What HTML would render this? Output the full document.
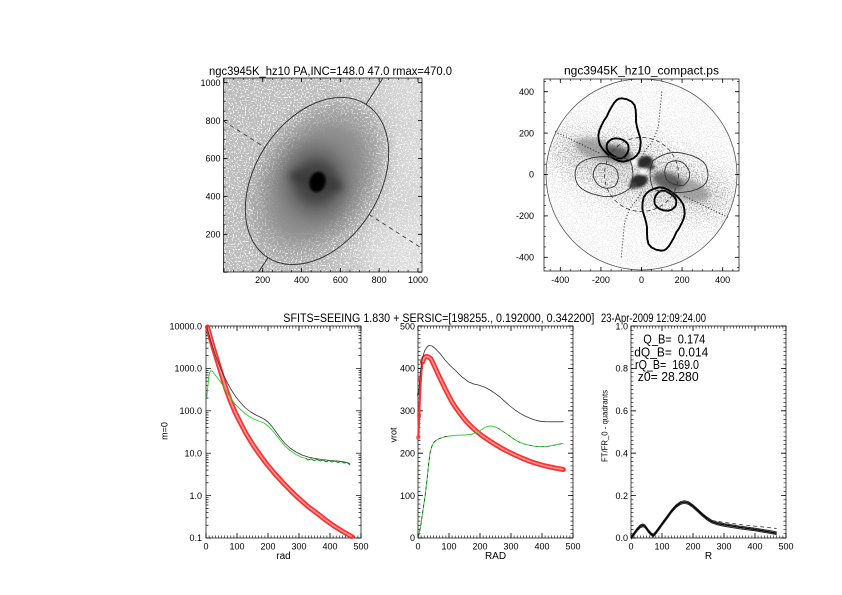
<!DOCTYPE html>
<html><head><meta charset="utf-8">
<style>
html,body{margin:0;padding:0;background:#fff;}
svg{display:block;}
text{font-family:"Liberation Sans",Arial,sans-serif;fill:#000;}
</style></head>
<body>
<svg width="842" height="595" viewBox="0 0 842 595" xmlns="http://www.w3.org/2000/svg">
<defs>
  <filter id="b1" x="-50%" y="-50%" width="200%" height="200%"><feGaussianBlur stdDeviation="1.3"/></filter>
  <filter id="b2" x="-50%" y="-50%" width="200%" height="200%"><feGaussianBlur stdDeviation="2.5"/></filter>
  <filter id="b4" x="-50%" y="-50%" width="200%" height="200%"><feGaussianBlur stdDeviation="4"/></filter>
  <filter id="b5" x="-50%" y="-50%" width="200%" height="200%"><feGaussianBlur stdDeviation="5"/></filter>
  <filter id="b8" x="-50%" y="-50%" width="200%" height="200%"><feGaussianBlur stdDeviation="8"/></filter>
  <filter id="b12" x="-60%" y="-60%" width="220%" height="220%"><feGaussianBlur stdDeviation="12"/></filter>

  <filter id="fSpkW" filterUnits="userSpaceOnUse" x="223" y="78" width="200" height="195">
    <feTurbulence type="fractalNoise" baseFrequency="0.75" numOctaves="1" seed="3"/>
    <feColorMatrix type="matrix" values="0 0 0 0 1  0 0 0 0 1  0 0 0 0 1  7 0 0 0 -3.75"/>
    <feComponentTransfer><feFuncA type="discrete" tableValues="0 1"/></feComponentTransfer>
  </filter>
  <filter id="fSpkD" filterUnits="userSpaceOnUse" x="223" y="78" width="200" height="195">
    <feTurbulence type="fractalNoise" baseFrequency="0.8" numOctaves="1" seed="11"/>
    <feColorMatrix type="matrix" values="0 0 0 0 0.6  0 0 0 0 0.6  0 0 0 0 0.6  7 0 0 0 -4.0"/>
    <feComponentTransfer><feFuncA type="discrete" tableValues="0 1"/></feComponentTransfer>
  </filter>
  <filter id="fSpkG" filterUnits="userSpaceOnUse" x="544" y="79" width="196" height="193">
    <feTurbulence type="fractalNoise" baseFrequency="0.8" numOctaves="1" seed="7"/>
    <feColorMatrix type="matrix" values="0 0 0 0 0.4  0 0 0 0 0.4  0 0 0 0 0.4  7 0 0 0 -3.3"/>
    <feComponentTransfer><feFuncA type="discrete" tableValues="0 1"/></feComponentTransfer>
  </filter>

  <linearGradient id="gTL" gradientUnits="userSpaceOnUse" x1="223" y1="0" x2="422" y2="0">
    <stop offset="0" stop-color="#bcbcbc"/>
    <stop offset="0.55" stop-color="#c0c0c0"/>
    <stop offset="1" stop-color="#d6d6d6"/>
  </linearGradient>

  <clipPath id="cTL"><rect x="223.5" y="78" width="198.5" height="194"/></clipPath>
  <clipPath id="cTR"><circle cx="641.5" cy="174.5" r="95.5"/></clipPath>

  <mask id="mTL" maskUnits="userSpaceOnUse" x="215" y="70" width="215" height="210">
    <rect x="215" y="70" width="215" height="210" fill="#fff"/>
    <ellipse cx="317" cy="181" rx="50" ry="76" transform="rotate(32.7 317 181)" fill="#000" filter="url(#b12)"/>
  </mask>
  <mask id="mTLd" maskUnits="userSpaceOnUse" x="215" y="70" width="215" height="210">
    <rect x="215" y="70" width="215" height="210" fill="#000"/>
    <ellipse cx="415" cy="230" rx="45" ry="70" fill="#fff" filter="url(#b12)"/>
    <ellipse cx="415" cy="100" rx="30" ry="30" fill="#fff" filter="url(#b12)"/>
  </mask>
  <mask id="mTR" maskUnits="userSpaceOnUse" x="540" y="75" width="205" height="200">
    <circle cx="641.5" cy="174.5" r="96" fill="#3a3a3a"/>
    <ellipse cx="641.5" cy="174.5" rx="100" ry="32" transform="rotate(18 641.5 174.5)" fill="#fff" filter="url(#b12)"/>
  </mask>

  <g id="decL">
    <line x1="206" y1="0" x2="211" y2="0"/>
    <line x1="206" y1="-12.76" x2="208.5" y2="-12.76"/>
    <line x1="206" y1="-20.23" x2="208.5" y2="-20.23"/>
    <line x1="206" y1="-25.53" x2="208.5" y2="-25.53"/>
    <line x1="206" y1="-29.64" x2="208.5" y2="-29.64"/>
    <line x1="206" y1="-32.99" x2="208.5" y2="-32.99"/>
    <line x1="206" y1="-35.83" x2="208.5" y2="-35.83"/>
    <line x1="206" y1="-38.29" x2="208.5" y2="-38.29"/>
    <line x1="206" y1="-40.46" x2="208.5" y2="-40.46"/>
    <line x1="361" y1="0" x2="356" y2="0"/>
    <line x1="361" y1="-12.76" x2="358.5" y2="-12.76"/>
    <line x1="361" y1="-20.23" x2="358.5" y2="-20.23"/>
    <line x1="361" y1="-25.53" x2="358.5" y2="-25.53"/>
    <line x1="361" y1="-29.64" x2="358.5" y2="-29.64"/>
    <line x1="361" y1="-32.99" x2="358.5" y2="-32.99"/>
    <line x1="361" y1="-35.83" x2="358.5" y2="-35.83"/>
    <line x1="361" y1="-38.29" x2="358.5" y2="-38.29"/>
    <line x1="361" y1="-40.46" x2="358.5" y2="-40.46"/>
  </g>

  <g id="lobeThick" fill="none" stroke="#000" stroke-width="1.9" stroke-linejoin="round">
    <polygon points="621.7,98.3 627,99.3 631.7,101.7 634.5,105 635.7,110 636,116 636,121.7 637,127 638.3,131.7 640,137 640.7,141.7 640.3,147 639.3,151.7 636.7,155.5 633.3,158.3 628.5,160.5 623.3,161.7 619,161 615,159.3 610.5,156.5 606.7,153.3 603,149.5 600,145 598.7,140 598.3,135 599.5,130 601.7,125 604,120.5 606.7,116.7 609,111.5 611.7,106.7 614,103 616.7,100 619,98.7"/>
    <polygon points="608.3,141.7 611.5,139.2 615,138.3 619.5,138.7 623.3,140 626.3,142.2 628.3,145 628.6,149.5 627.3,153.3 624.8,156.5 621.7,158.3 618.3,158.3 615,156.7 611.4,154.5 608.3,151.7 606.8,148.8 606.7,146 607.2,143.5"/>
  </g>
  <g id="lobeThin" fill="none" stroke="#333" stroke-width="0.9" stroke-linejoin="round">
    <polygon points="630,160 623,157.8 616.7,157.3 608,156.5 600,156.7 592,157.8 585,160 580,163 576.7,166.7 575.3,171 575,175 575.7,179.5 577.3,184 580.5,187.8 585,190.7 590.5,193.2 596.7,195 603,196.3 610,196.7 616,195.5 621.7,193.3 626,191 630,188.3 632.5,181 633,174 632,166"/>
    <polygon points="600,163.3 605,163.8 610,165 614,167 616.7,170 618,174 618.3,178.3 617.3,182.5 615,186 611,187.8 606.7,188.3 602,187.3 598.3,185 595.3,181 593.3,176.7 593.4,172 595,168.3 597.3,165.3"/>
  </g>
  <g id="dots" fill="none" stroke="#222" stroke-width="1" stroke-dasharray="1 2">
    <polyline points="661.7,91.7 661,100 660,110 659.3,118 658.3,126.7 656,133.5 653.3,140 650,144.5 646.7,148.3 644,152.5 641.7,156.7"/>
    <line x1="555" y1="131.7" x2="600" y2="153.3"/>
  </g>
</defs>

<rect x="0" y="0" width="842" height="595" fill="#fff"/>

<!-- ================= TOP LEFT: galaxy image ================= -->
<g clip-path="url(#cTL)">
  <rect x="223.5" y="78" width="198.5" height="194" fill="url(#gTL)"/>
  <ellipse cx="412" cy="258" rx="45" ry="40" fill="#e6e6e6" opacity="0.7" filter="url(#b12)"/>
  <ellipse cx="414" cy="92" rx="28" ry="25" fill="#dedede" opacity="0.5" filter="url(#b12)"/>
  <ellipse cx="410" cy="170" rx="20" ry="45" fill="#dcdcdc" opacity="0.5" filter="url(#b12)"/>
  <g transform="rotate(32.7 317 181)">
    <ellipse cx="317" cy="181" rx="60" ry="88" fill="#a6a6a6" filter="url(#b8)"/>
    <ellipse cx="317" cy="181" rx="46" ry="64" fill="#8c8c8c" filter="url(#b8)"/>
  </g>
  <ellipse cx="316" cy="182" rx="34" ry="38" fill="#6a6a6a" filter="url(#b8)"/>
  <ellipse cx="316" cy="182" rx="22" ry="23" fill="#444" filter="url(#b5)"/>
  <ellipse cx="316" cy="181" rx="28" ry="8" fill="#3a3a3a" transform="rotate(14 316 181)" filter="url(#b4)"/>
  <ellipse cx="317.5" cy="182" rx="8" ry="10.5" fill="#000" transform="rotate(15 317.5 182)" filter="url(#b1)"/>
  <rect x="223.5" y="78" width="198.5" height="194" fill="#fff" filter="url(#fSpkW)" mask="url(#mTL)"/>
  <rect x="223.5" y="78" width="198.5" height="194" fill="#999" filter="url(#fSpkD)" mask="url(#mTLd)"/>
  <ellipse cx="317" cy="181" rx="62" ry="91" transform="rotate(32.7 317 181)" fill="none" stroke="#2a2a2a" stroke-width="0.9"/>
  <line x1="366" y1="104.4" x2="383" y2="78" stroke="#2a2a2a" stroke-width="0.9"/>
  <line x1="268" y1="257.6" x2="258.6" y2="272" stroke="#2a2a2a" stroke-width="0.9"/>
  <line x1="223.5" y1="121" x2="265" y2="147.6" stroke="#2a2a2a" stroke-width="0.8" stroke-dasharray="4 4"/>
  <line x1="369" y1="214.4" x2="422" y2="248.4" stroke="#2a2a2a" stroke-width="0.8" stroke-dasharray="4 4"/>
</g>
<rect x="223.5" y="78" width="198.5" height="194" fill="none" stroke="#000" stroke-width="0.7"/>
<g stroke="#000" fill="none">
  <line x1="223.5" y1="270" x2="422.5" y2="270" stroke-width="4" stroke-dasharray="0.8 38.02"/>
  <line x1="223.5" y1="80" x2="422.5" y2="80" stroke-width="4" stroke-dasharray="0.8 38.02"/>
  <line x1="223.5" y1="271" x2="422.5" y2="271" stroke-width="2" stroke-dasharray="0.6 9.1"/>
  <line x1="223.5" y1="79" x2="422.5" y2="79" stroke-width="2" stroke-dasharray="0.6 9.1"/>
  <line x1="225.5" y1="272.6" x2="225.5" y2="78" stroke-width="4" stroke-dasharray="0.8 37.1"/>
  <line x1="420" y1="272.6" x2="420" y2="78" stroke-width="4" stroke-dasharray="0.8 37.1"/>
  <line x1="224.5" y1="272.5" x2="224.5" y2="78" stroke-width="2" stroke-dasharray="0.6 8.875"/>
  <line x1="421" y1="272.5" x2="421" y2="78" stroke-width="2" stroke-dasharray="0.6 8.875"/>
</g>
<text x="209" y="75" font-size="11.5" textLength="243" lengthAdjust="spacingAndGlyphs">ngc3945K_hz10 PA,INC=148.0 47.0 rmax=470.0</text>
<g font-size="9" text-anchor="middle">
  <text x="262.7" y="283">200</text>
  <text x="301.5" y="283">400</text>
  <text x="340.4" y="283">600</text>
  <text x="379.2" y="283">800</text>
  <text x="418" y="283">1000</text>
</g>
<g font-size="9" text-anchor="end">
  <text x="220.5" y="237.5">200</text>
  <text x="220.5" y="199.6">400</text>
  <text x="220.5" y="161.7">600</text>
  <text x="220.5" y="123.8">800</text>
  <text x="220.5" y="85.9">1000</text>
</g>

<!-- ================= TOP RIGHT: polar map ================= -->
<circle cx="641.5" cy="174.5" r="95.5" fill="#fff"/>
<g clip-path="url(#cTR)">
  <ellipse cx="641.5" cy="174.5" rx="90" ry="22" transform="rotate(18 641.5 174.5)" fill="#d8d8d8" opacity="0.6" filter="url(#b8)"/>
  <rect x="544" y="79" width="196" height="193" fill="#666" filter="url(#fSpkG)" mask="url(#mTR)"/>
  <g filter="url(#b2)">
    <ellipse cx="598" cy="150" rx="24" ry="10" transform="rotate(18 598 150)" fill="#8a8a8a" opacity="0.7"/>
    <ellipse cx="618" cy="154" rx="15" ry="8" transform="rotate(18 618 154)" fill="#555" opacity="0.9"/>
    <ellipse cx="688" cy="190" rx="22" ry="10" transform="rotate(18 688 190)" fill="#8a8a8a" opacity="0.7"/>
    <ellipse cx="668" cy="181" rx="16" ry="8.5" transform="rotate(18 668 181)" fill="#555" opacity="0.9"/>
  </g>
  <g filter="url(#b1)">
    <ellipse cx="645" cy="162" rx="8" ry="6" transform="rotate(-20 645 162)" fill="#2a2a2a"/>
    <ellipse cx="639" cy="181" rx="9" ry="6.5" transform="rotate(-20 639 181)" fill="#2a2a2a"/>
    <ellipse cx="651" cy="167" rx="4" ry="3" fill="#444"/>
    <ellipse cx="633" cy="186" rx="4" ry="3" fill="#444"/>
    <ellipse cx="643" cy="172" rx="3.5" ry="2.5" fill="#fff"/>
    <ellipse cx="634" cy="162" rx="3" ry="3" fill="#fff"/>
  </g>
</g>
<use href="#lobeThick"/>
<use href="#lobeThick" transform="rotate(180 641.5 174.5)"/>
<use href="#lobeThin"/>
<use href="#lobeThin" transform="rotate(180 641.5 174.5)"/>
<use href="#dots"/>
<use href="#dots" transform="rotate(180 641.5 174.5)"/>
<circle cx="641.5" cy="174.5" r="37" fill="none" stroke="#333" stroke-width="0.8" stroke-dasharray="4 3"/>
<circle cx="641.5" cy="174.5" r="95.5" fill="none" stroke="#555" stroke-width="0.8"/>
<rect x="544" y="79" width="195" height="192" fill="none" stroke="#000" stroke-width="0.7"/>
<g stroke="#000" fill="none">
  <line x1="544" y1="269" x2="739" y2="269" stroke-width="4" stroke-dasharray="0.8 39.8" stroke-dashoffset="24.7"/>
  <line x1="544" y1="81" x2="739" y2="81" stroke-width="4" stroke-dasharray="0.8 39.8" stroke-dashoffset="24.7"/>
  <line x1="544" y1="270" x2="739" y2="270" stroke-width="2" stroke-dasharray="0.6 9.55" stroke-dashoffset="4.3"/>
  <line x1="544" y1="80" x2="739" y2="80" stroke-width="2" stroke-dasharray="0.6 9.55" stroke-dashoffset="4.3"/>
  <line x1="546" y1="271" x2="546" y2="79" stroke-width="4" stroke-dasharray="0.8 40.6" stroke-dashoffset="28.1"/>
  <line x1="737" y1="271" x2="737" y2="79" stroke-width="4" stroke-dasharray="0.8 40.6" stroke-dashoffset="28.1"/>
  <line x1="545" y1="271" x2="545" y2="79" stroke-width="2" stroke-dasharray="0.6 9.75" stroke-dashoffset="7.3"/>
  <line x1="738" y1="271" x2="738" y2="79" stroke-width="2" stroke-dasharray="0.6 9.75" stroke-dashoffset="7.3"/>
</g>
<text x="641.5" y="74.5" font-size="11.5" text-anchor="middle" textLength="155" lengthAdjust="spacingAndGlyphs">ngc3945K_hz10_compact.ps</text>
<g font-size="9" text-anchor="middle">
  <text x="560.3" y="283">-400</text>
  <text x="600.9" y="283">-200</text>
  <text x="641.5" y="283">0</text>
  <text x="682.1" y="283">200</text>
  <text x="722.7" y="283">400</text>
</g>
<g font-size="9" text-anchor="end">
  <text x="534" y="94.9">400</text>
  <text x="534" y="136.3">200</text>
  <text x="534" y="177.7">0</text>
  <text x="534" y="219.1">-200</text>
  <text x="534" y="260.5">-400</text>
</g>

<!-- ================= Bottom title ================= -->
<text x="283.3" y="322" font-size="11.5" textLength="311" lengthAdjust="spacingAndGlyphs">SFITS=SEEING 1.830 + SERSIC=[198255., 0.192000, 0.342200]</text>
<text x="601" y="322" font-size="11.5" textLength="105" lengthAdjust="spacingAndGlyphs">23-Apr-2009 12:09:24.00</text>

<!-- ================= BOTTOM LEFT ================= -->
<rect x="206" y="326" width="155" height="212" fill="none" stroke="#000" stroke-width="0.7"/>
<g stroke="#000" fill="none">
  <line x1="205.6" y1="535.5" x2="361.5" y2="535.5" stroke-width="5" stroke-dasharray="0.8 30.2"/>
  <line x1="205.7" y1="536.75" x2="361.5" y2="536.75" stroke-width="2.5" stroke-dasharray="0.6 2.5"/>
  <line x1="205.6" y1="328.5" x2="361.5" y2="328.5" stroke-width="5" stroke-dasharray="0.8 30.2"/>
  <line x1="205.7" y1="327.25" x2="361.5" y2="327.25" stroke-width="2.5" stroke-dasharray="0.6 2.5"/>
</g>
<g stroke="#000" stroke-width="0.7">
  <use href="#decL" transform="translate(0 538)"/>
  <use href="#decL" transform="translate(0 495.6)"/>
  <use href="#decL" transform="translate(0 453.2)"/>
  <use href="#decL" transform="translate(0 410.8)"/>
  <use href="#decL" transform="translate(0 368.4)"/>
  <line x1="206" y1="326" x2="211" y2="326"/>
  <line x1="361" y1="326" x2="356" y2="326"/>
</g>
<polyline fill="none" stroke="#ff3030" stroke-width="5" stroke-linejoin="round" stroke-linecap="round"
 points="207.5,327 210,336 212.5,345 215,353.3 218,363 221.7,375 226,389 230,400 235,412 240,422 246,433.5 253.3,445.5 260,455 266.7,464 275,474 283.3,483 292,492 300,499.5 308,506.5 316.7,513 325,519.5 333.3,525.5 342,531 351.7,536.5"/>
<polyline fill="none" stroke="#ffa8a8" stroke-width="1.6" stroke-linejoin="round" opacity="0.85"
 points="207.5,327 210,336 212.5,345 215,353.3 218,363 221.7,375 226,389 230,400 235,412 240,422 246,433.5 253.3,445.5 260,455 266.7,464 275,474 283.3,483 292,492 300,499.5 308,506.5 316.7,513 325,519.5 333.3,525.5 342,531 351.7,536.5"/>
<polyline fill="none" stroke="#333" stroke-width="0.8" stroke-linejoin="round"
 points="206.8,326 208,331 210,338 213,348 216,357 220,367 224,376 228,384 232,391 236,397 240,402 245,407.5 250,411.5 255,414.5 260,417 264,419 268,422 272,426.5 276,432 280,437.5 285,443.5 290,448 296,452 302,455 308,457 315,458.5 322,459.5 330,460.5 338,461 345,462 350,463.5"/>
<polyline fill="none" stroke="#2ccc2c" stroke-width="0.9" stroke-linejoin="round"
 points="206.7,398 207.5,390 208.5,380 209.5,373 210.7,370.7 212,371 213,372 216,376 220,381 225,389 230,397 235,404 240,409 245,413.5 250,417 255,419.5 260,421.5 264,423 268,426 272,430 276,435 280,440 285,446 290,450.5 296,454.5 302,457.5 306,458.5 308,460 311,458.8 314,460.6 317,459.4 320,461 323,460 326,461.8 329,460.5 332,462 335,461 338,462.5 341,461.5 344,463 347,462.5 350,465"/>
<polyline fill="none" stroke="#0a7a0a" stroke-width="0.7" points="306,458.5 308,460 311,458.8 314,460.6 317,459.4 320,461 323,460 326,461.8 329,460.5 332,462 335,461 338,462.5 341,461.5 344,463 347,462.5 350,465"/>
<text transform="translate(167.5 431) rotate(-90)" font-size="9" text-anchor="middle">m=0</text>
<g font-size="9" text-anchor="end">
  <text x="202" y="329.3">10000.0</text>
  <text x="202" y="371.6">1000.0</text>
  <text x="202" y="414">100.0</text>
  <text x="202" y="456.4">10.0</text>
  <text x="202" y="498.8">1.0</text>
  <text x="202" y="541">0.1</text>
</g>
<g font-size="9" text-anchor="middle">
  <text x="206" y="549.5">0</text>
  <text x="237" y="549.5">100</text>
  <text x="268" y="549.5">200</text>
  <text x="299" y="549.5">300</text>
  <text x="330" y="549.5">400</text>
  <text x="361" y="549.5">500</text>
  <text x="283.5" y="559" font-size="10">rad</text>
</g>

<!-- ================= BOTTOM MIDDLE ================= -->
<rect x="418" y="326" width="155" height="212" fill="none" stroke="#000" stroke-width="0.7"/>
<g stroke="#000" fill="none">
  <line x1="417.6" y1="535.5" x2="573.5" y2="535.5" stroke-width="5" stroke-dasharray="0.8 30.2"/>
  <line x1="417.7" y1="536.75" x2="573.5" y2="536.75" stroke-width="2.5" stroke-dasharray="0.6 2.5"/>
  <line x1="417.6" y1="328.5" x2="573.5" y2="328.5" stroke-width="5" stroke-dasharray="0.8 30.2"/>
  <line x1="417.7" y1="327.25" x2="573.5" y2="327.25" stroke-width="2.5" stroke-dasharray="0.6 2.5"/>
  <line x1="420.5" y1="538.4" x2="420.5" y2="325.6" stroke-width="5" stroke-dasharray="0.8 41.6"/>
  <line x1="419.25" y1="538.3" x2="419.25" y2="325.6" stroke-width="2.5" stroke-dasharray="0.6 3.64"/>
  <line x1="570.5" y1="538.4" x2="570.5" y2="325.6" stroke-width="5" stroke-dasharray="0.8 41.6"/>
  <line x1="571.75" y1="538.3" x2="571.75" y2="325.6" stroke-width="2.5" stroke-dasharray="0.6 3.64"/>
</g>
<polyline fill="none" stroke="#ff3030" stroke-width="2.2" stroke-linejoin="round"
 points="418.3,438 419,420 419.8,400 420.5,385 421.5,370 422.5,362 424,358"/>
<g fill="none" stroke="#ff3333" stroke-width="0.7">
  <rect x="416.8" y="436" width="3" height="3"/>
  <rect x="417.3" y="393" width="3" height="3"/>
  <rect x="417.6" y="414" width="3" height="3"/>
  <rect x="418.6" y="378" width="3" height="3"/>
</g>
<polyline fill="none" stroke="#ff3030" stroke-width="5" stroke-linejoin="round" stroke-linecap="round"
 points="422.5,362 424,358 426,356.5 428.5,357 431,359 433,363 435.5,368.5 438.5,375 441.7,381.7 445,388.5 448.3,395 451.5,401 455,406.7 460,413.5 465,420 470,425.3 475,430 481.5,435.3 488.3,440 495,444.3 501.7,448.3 508.3,451.8 515,455 521.7,458 528.3,460.7 535,463 541.7,465 548,466.5 555,468 563.3,469.5"/>
<polyline fill="none" stroke="#ffa8a8" stroke-width="1.6" stroke-linejoin="round" opacity="0.85"
 points="422.5,362 424,358 426,356.5 428.5,357 431,359 433,363 435.5,368.5 438.5,375 441.7,381.7 445,388.5 448.3,395 451.5,401 455,406.7 460,413.5 465,420 470,425.3 475,430 481.5,435.3 488.3,440 495,444.3 501.7,448.3 508.3,451.8 515,455 521.7,458 528.3,460.7 535,463 541.7,465 548,466.5 555,468 563.3,469.5"/>
<polyline fill="none" stroke="#333" stroke-width="0.8" stroke-linejoin="round"
 points="418.6,395 420,375 422,360 424.5,351 427,347 429,345.5 432,346 435,348.3 440,353.5 445,360 450,365.5 455,370 461.7,376.7 468.3,381.7 473,383.8 478.3,385 485,387.3 490,390 495,393.3 500,397 505,401.7 510,406 515,410 520,413.3 525,416 530,418.3 535,420 540,421.2 545,421.7 555,421.8 563.5,421.7"/>
<polyline fill="none" stroke="#2ccc2c" stroke-width="0.9" stroke-linejoin="round"
 points="418.3,537 419.5,532 421,524 423,510 425,496.7 427,480 428.3,467 430,453 431.7,446.7 434,442 436.7,440 440,438.3 445,436.7 450,436 455,435.3 465,435 471.7,434.3 478.3,431.7 485,427.5 488,426.3 491.7,426 495,426.8 498.3,428.3 503,431.5 508.3,435 513,438.5 518.3,441.7 523,443.7 528.3,445 535,446.3 541.7,446.7 548,446.3 555,445 563.3,443.3"/>
<polyline fill="none" stroke="#1a4a1a" stroke-width="0.8" stroke-dasharray="3 3" stroke-linejoin="round"
 points="418.3,537 419.5,532 421,524 423,510 425,496.7 427,480 428.3,467 430,453 431.7,446.7 434,442 436.7,440 440,438.3 445,436.7 450,436"/>
<polyline fill="none" stroke="#1a4a1a" stroke-width="0.6" stroke-dasharray="2 4"
 points="498.3,428.3 503,431.5 508.3,435 513,438.5 518.3,441.7 523,443.7 528.3,445 535,446.3 541.7,446.7 548,446.3 555,445 563.3,443.3"/>
<text transform="translate(396.5 435) rotate(-90)" font-size="9" text-anchor="middle">vrot</text>
<g font-size="9" text-anchor="end">
  <text x="415" y="329.3">500</text>
  <text x="415" y="371.6">400</text>
  <text x="415" y="414">300</text>
  <text x="415" y="456.4">200</text>
  <text x="415" y="498.8">100</text>
  <text x="415" y="541">0</text>
</g>
<g font-size="9" text-anchor="middle">
  <text x="418" y="549.5">0</text>
  <text x="449" y="549.5">100</text>
  <text x="480" y="549.5">200</text>
  <text x="511" y="549.5">300</text>
  <text x="542" y="549.5">400</text>
  <text x="573" y="549.5">500</text>
  <text x="495.5" y="559" font-size="10">RAD</text>
</g>

<!-- ================= BOTTOM RIGHT ================= -->
<rect x="631" y="326" width="155" height="212" fill="none" stroke="#000" stroke-width="0.7"/>
<g stroke="#000" fill="none">
  <line x1="630.6" y1="535.5" x2="786.5" y2="535.5" stroke-width="5" stroke-dasharray="0.8 30.2"/>
  <line x1="630.7" y1="536.75" x2="786.5" y2="536.75" stroke-width="2.5" stroke-dasharray="0.6 2.5"/>
  <line x1="630.6" y1="328.5" x2="786.5" y2="328.5" stroke-width="5" stroke-dasharray="0.8 30.2"/>
  <line x1="630.7" y1="327.25" x2="786.5" y2="327.25" stroke-width="2.5" stroke-dasharray="0.6 2.5"/>
  <line x1="633.5" y1="538.4" x2="633.5" y2="325.6" stroke-width="5" stroke-dasharray="0.8 41.6"/>
  <line x1="632.25" y1="538.3" x2="632.25" y2="325.6" stroke-width="2.5" stroke-dasharray="0.6 3.64"/>
  <line x1="783.5" y1="538.4" x2="783.5" y2="325.6" stroke-width="5" stroke-dasharray="0.8 41.6"/>
  <line x1="784.75" y1="538.3" x2="784.75" y2="325.6" stroke-width="2.5" stroke-dasharray="0.6 3.64"/>
</g>
<g fill="none" stroke-linejoin="round">
  <polyline stroke="#222" stroke-width="1" transform="translate(0 -1.3)"
   points="631,538 634.1,533.8 637.2,529.5 640.3,526.3 642.8,525.3 645,526.3 648,530.6 651.2,534.2 653.3,535.5 655.8,532.7 658.9,528.5 662,524.2 666.7,517.9 671.3,511.5 676,506.2 680.6,503 684.3,502 688.4,503 693,506.2 697.7,510.4 702.3,514.7 707,518.5 711.6,521.5 717.8,523.6 724,524.9 739.5,527.4 755,529.5 770.5,532.1 776.7,533.3"/>
  <polyline stroke="#000" stroke-width="1.3"
   points="631,538 634.1,533.8 637.2,529.5 640.3,526.3 642.8,525.3 645,526.3 648,530.6 651.2,534.2 653.3,535.5 655.8,532.7 658.9,528.5 662,524.2 666.7,517.9 671.3,511.5 676,506.2 680.6,503 684.3,502 688.4,503 693,506.2 697.7,510.4 702.3,514.7 707,518.5 711.6,521.5 717.8,523.6 724,524.9 739.5,527.4 755,529.5 770.5,532.1 776.7,533.3"/>
  <polyline stroke="#222" stroke-width="1" transform="translate(0 1.3)"
   points="631,538 634.1,533.8 637.2,529.5 640.3,526.3 642.8,525.3 645,526.3 648,530.6 651.2,534.2 653.3,535.5 655.8,532.7 658.9,528.5 662,524.2 666.7,517.9 671.3,511.5 676,506.2 680.6,503 684.3,502 688.4,503 693,506.2 697.7,510.4 702.3,514.7 707,518.5 711.6,521.5 717.8,523.6 724,524.9 739.5,527.4 755,529.5 770.5,532.1 776.7,533.3"/>
  <polyline stroke="#333" stroke-width="0.8" stroke-dasharray="4 3"
   points="711.6,520.5 718.4,521.5 730.2,523.2 742.6,524.9 755,526.1 767.4,527.4 776.7,528.5"/>
</g>
<g font-size="12.5">
  <text xml:space="preserve" x="643.3" y="343.5" textLength="62" lengthAdjust="spacingAndGlyphs">Q_B=  0.174</text>
  <text xml:space="preserve" x="634.3" y="356.3" textLength="74" lengthAdjust="spacingAndGlyphs">dQ_B=  0.014</text>
  <text xml:space="preserve" x="635" y="369.2" textLength="64" lengthAdjust="spacingAndGlyphs">rQ_B=  169.0</text>
  <text xml:space="preserve" x="637.7" y="381" textLength="61" lengthAdjust="spacingAndGlyphs">z0= 28.280</text>
</g>
<text transform="translate(607.5 426) rotate(-90)" font-size="8.5" text-anchor="middle" textLength="72" lengthAdjust="spacingAndGlyphs">FT/FR_0 - quadrants</text>
<g font-size="9" text-anchor="end">
  <text x="628" y="329.3">1.0</text>
  <text x="628" y="371.6">0.8</text>
  <text x="628" y="414">0.6</text>
  <text x="628" y="456.4">0.4</text>
  <text x="628" y="498.8">0.2</text>
  <text x="628" y="541">0.0</text>
</g>
<g font-size="9" text-anchor="middle">
  <text x="631" y="549.5">0</text>
  <text x="662" y="549.5">100</text>
  <text x="693" y="549.5">200</text>
  <text x="724" y="549.5">300</text>
  <text x="755" y="549.5">400</text>
  <text x="786" y="549.5">500</text>
  <text x="708.5" y="559" font-size="10">R</text>
</g>
</svg>
</body></html>
